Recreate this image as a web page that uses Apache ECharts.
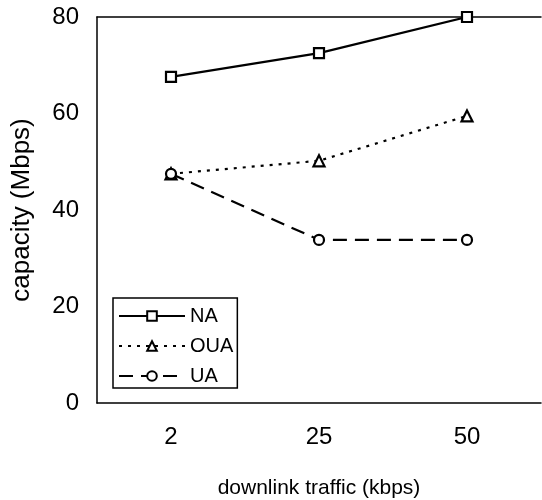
<!DOCTYPE html>
<html>
<head>
<meta charset="utf-8">
<script src="https://cdn.jsdelivr.net/npm/echarts@6/dist/echarts.min.js"></script>
<style>
	html, body { margin: 0; padding: 0; background: #fff; }
	#chart { width: 542px; height: 500px; }
</style>
</head>
<body>
<div id="chart"></div>
<script>
const categories = ["2", "25", "50"];
const na = [67.6, 72.5, 80];
const oua = [47.5, 50.2, 59.5];
const ua = [47.5, 33.8, 33.8];
const yTicks = [0, 20, 40, 60, 80];

const font = "Liberation Sans, Arial, sans-serif";
const chart = echarts.init(document.getElementById("chart"));

function lineSeries(name, data, symbol, type) {
	return {
		name: name,
		type: "line",
		data: data,
		symbol: symbol,
		symbolSize: symbol === "triangle" ? 11 : 10,
		showSymbol: true,
		lineStyle: { color: "#000", width: 2.2, type: type },
		itemStyle: { color: "#fff", borderColor: "#000", borderWidth: 2.2 },
		emphasis: { disabled: true },
		animation: false
	};
}

const option = {
	backgroundColor: "#fff",
	grid: { left: 97, top: 17, right: 1, bottom: 97, outerBoundsMode: "none", containLabel: false },
	legend: {
		orient: "vertical",
		left: 113,
		top: 298,
		padding: [8, 4, 2, 5],
		itemGap: 10,
		itemWidth: 66,
		itemHeight: 12,
		borderColor: "#000",
		borderWidth: 1.5,
		textStyle: { fontFamily: font, fontSize: 20, color: "#000" },
		data: ["NA", "OUA", "UA"]
	},
	xAxis: [
		{
			type: "category",
			data: categories,
			boundaryGap: true,
			axisLine: { lineStyle: { color: "#000", width: 1.5 } },
			axisTick: { show: false },
			axisLabel: { color: "#000", fontFamily: font, fontSize: 24, margin: 22 },
			name: "downlink traffic (kbps)",
			nameLocation: "middle",
			nameGap: 75,
			nameTextStyle: { color: "#000", fontFamily: font, fontSize: 21 }
		},
		{
			type: "category",
			position: "top",
			data: categories,
			axisLine: { lineStyle: { color: "#000", width: 1.5 } },
			axisTick: { show: false },
			axisLabel: { show: false }
		}
	],
	yAxis: {
		type: "value",
		min: 0,
		max: 80,
		interval: 20,
		axisLine: { show: true, lineStyle: { color: "#000", width: 1.5 } },
		axisTick: { show: false },
		splitLine: { show: false },
		axisLabel: {
			color: "#000", fontFamily: font, fontSize: 24, margin: 18,
			formatter: function (v) { return yTicks.indexOf(v) >= 0 ? String(v) : ""; }
		},
		name: "capacity (Mbps)",
		nameLocation: "middle",
		nameGap: 62,
		nameTextStyle: { color: "#000", fontFamily: font, fontSize: 26 }
	},
	series: [
		lineSeries("NA", na, "rect", "solid"),
		lineSeries("OUA", oua, "triangle", [3, 6]),
		lineSeries("UA", ua, "circle", [14, 8])
	]
};
chart.setOption(option);
</script>
</body>
</html>
